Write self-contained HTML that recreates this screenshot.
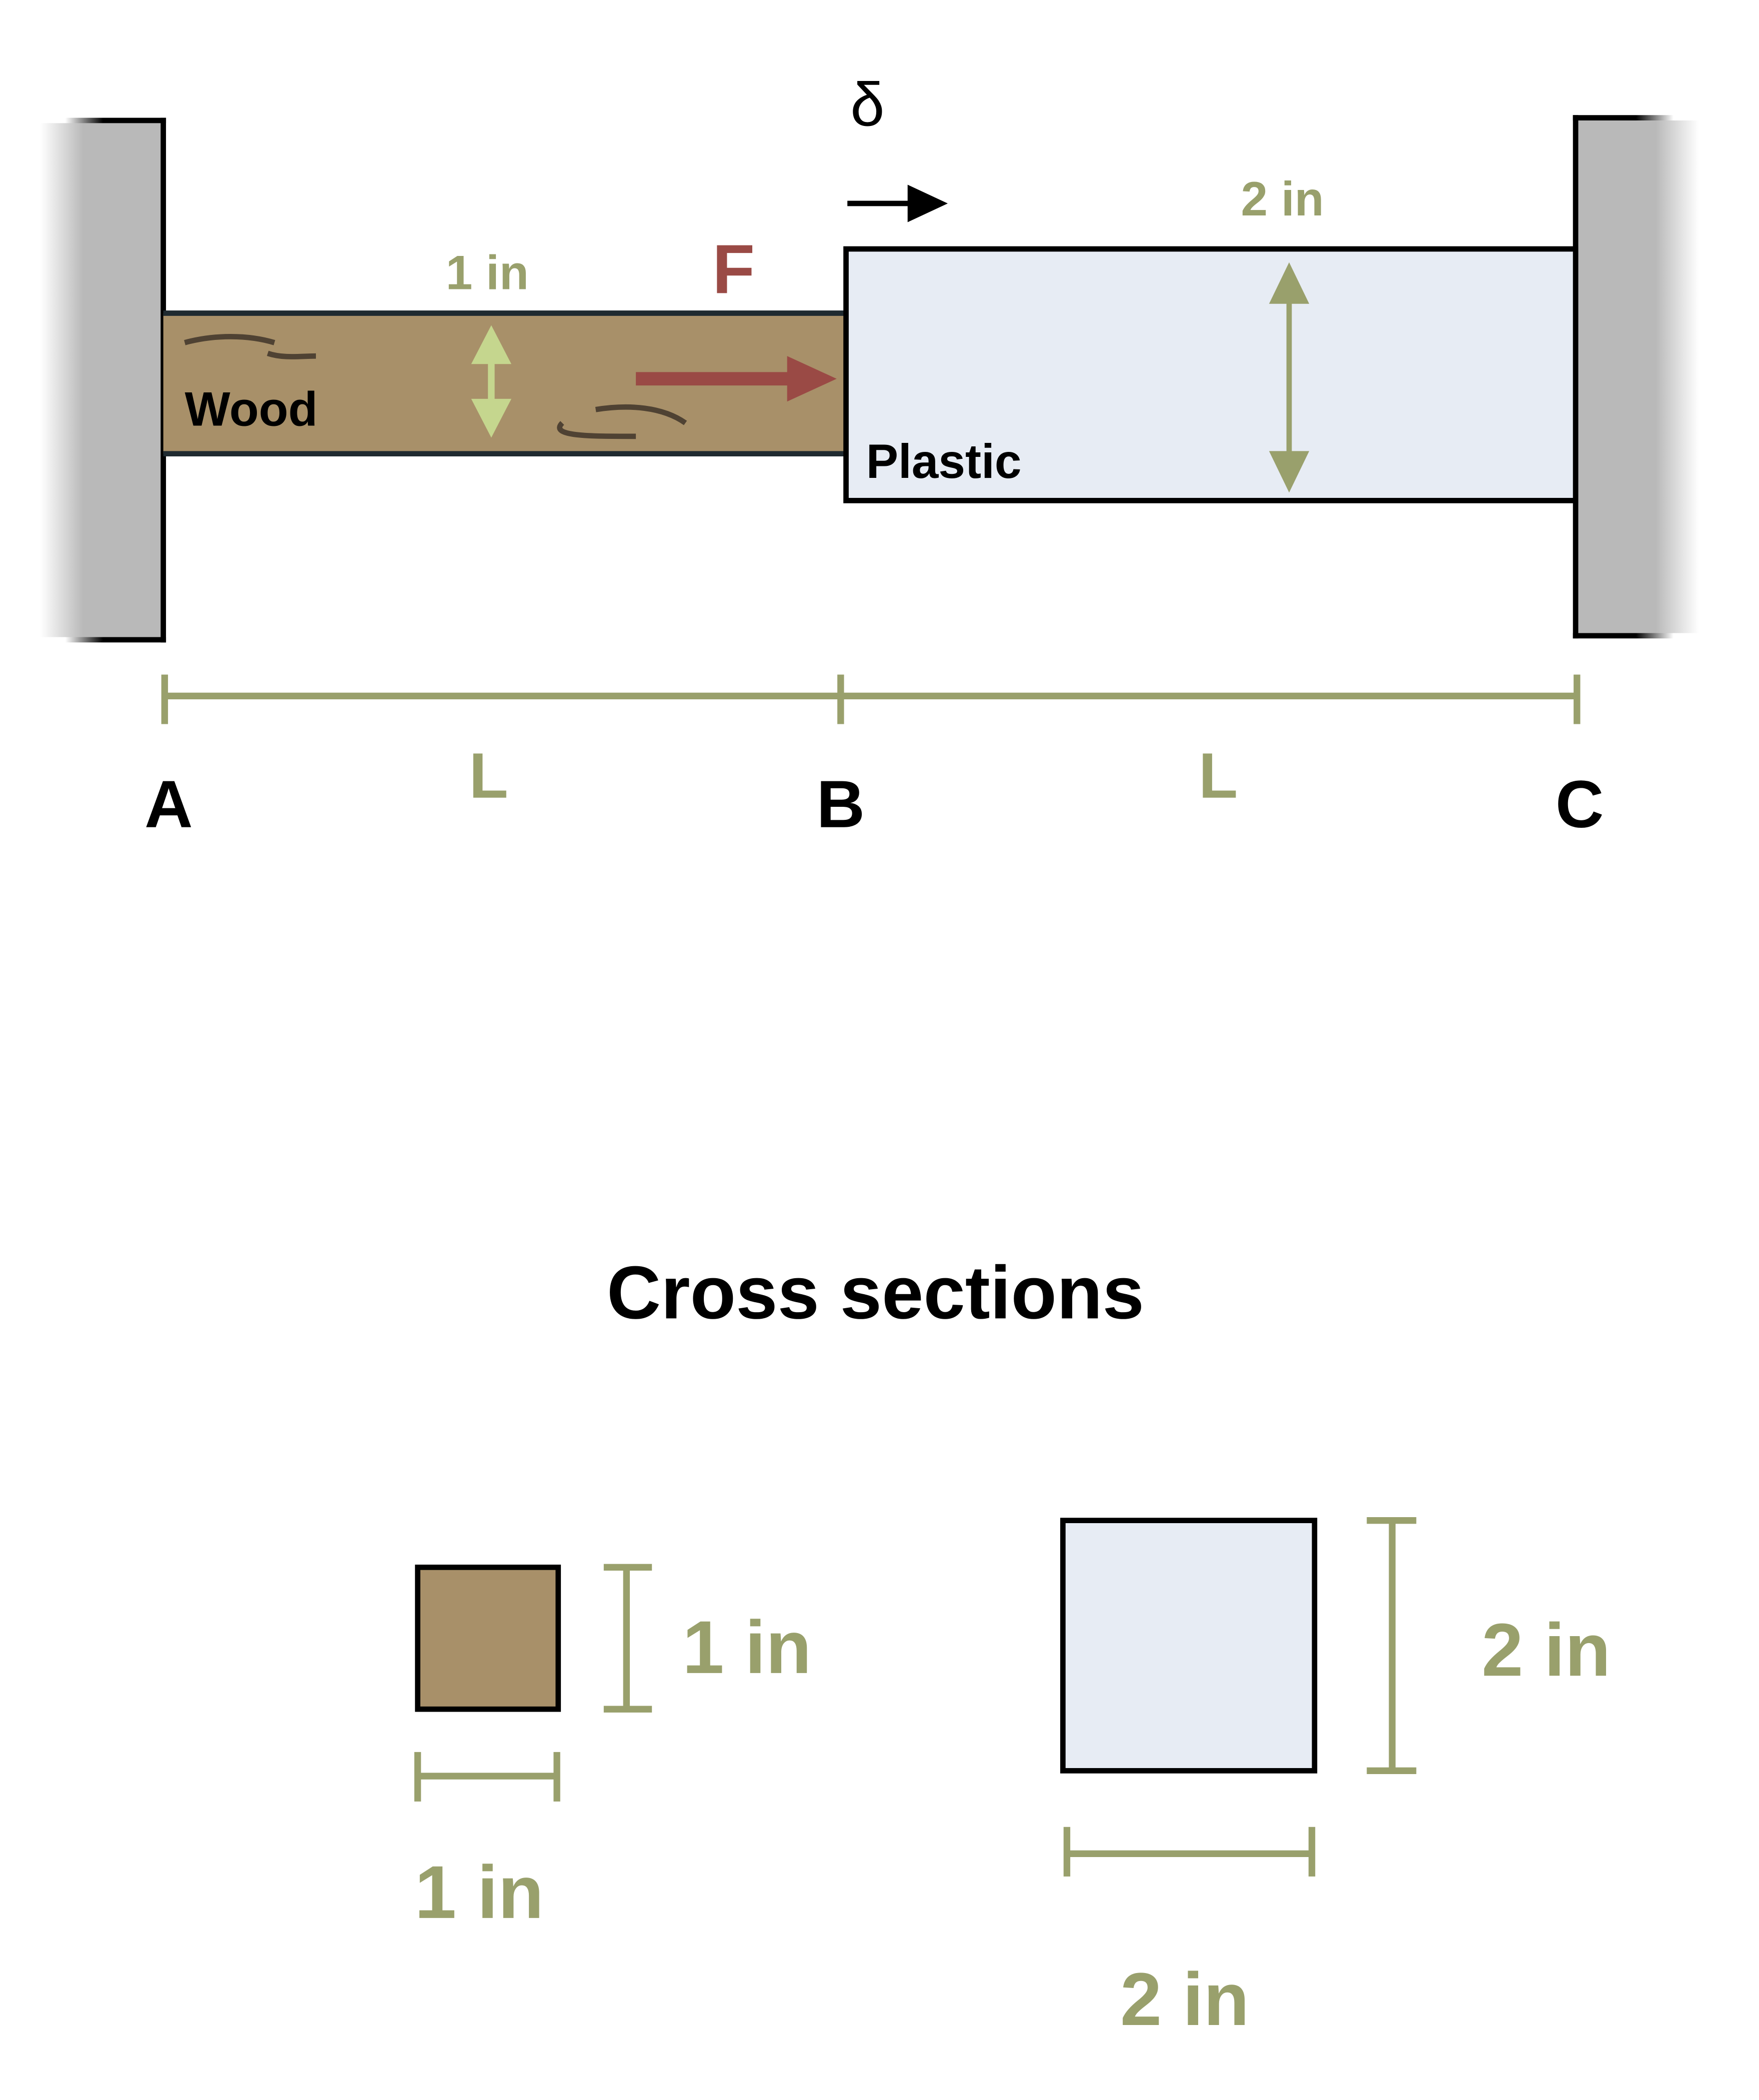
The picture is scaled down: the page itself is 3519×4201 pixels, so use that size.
<!DOCTYPE html>
<html><head><meta charset="utf-8"><style>
html,body{margin:0;padding:0;background:#fff;}
svg{display:block;}
text{font-family:"Liberation Sans",sans-serif;font-weight:bold;}
</style></head><body>
<svg width="3519" height="4201" viewBox="0 0 1314 1569" preserveAspectRatio="none">
<defs>
<linearGradient id="gl" x1="0" x2="1"><stop offset="0" stop-color="#fff"/><stop offset="0.35" stop-color="#b9b9b9"/><stop offset="1" stop-color="#b9b9b9"/></linearGradient>
<linearGradient id="gr" x1="1" x2="0"><stop offset="0" stop-color="#fff"/><stop offset="0.35" stop-color="#b9b9b9"/><stop offset="1" stop-color="#b9b9b9"/></linearGradient>
<linearGradient id="bl" x1="0" x2="1"><stop offset="0" stop-color="#fff"/><stop offset="0.2" stop-color="#fff"/><stop offset="0.5" stop-color="#000"/><stop offset="1" stop-color="#000"/></linearGradient>
<linearGradient id="br" x1="1" x2="0"><stop offset="0" stop-color="#fff"/><stop offset="0.2" stop-color="#fff"/><stop offset="0.5" stop-color="#000"/><stop offset="1" stop-color="#000"/></linearGradient>
</defs>
<g>
<rect x="30" y="90" width="92" height="388" fill="url(#gl)"/>
<rect x="30" y="88" width="94" height="4" fill="url(#bl)"/>
<rect x="30" y="476" width="94" height="4" fill="url(#bl)"/>
<line x1="122" y1="88" x2="122" y2="480" stroke="#000" stroke-width="4"/>
</g>
<g>
<rect x="1177" y="88" width="92" height="387" fill="url(#gr)"/>
<rect x="1175" y="86" width="94" height="4" fill="url(#br)"/>
<rect x="1175" y="473" width="94" height="4" fill="url(#br)"/>
<line x1="1177" y1="86" x2="1177" y2="477" stroke="#000" stroke-width="4"/>
</g>
<g>
<rect x="122" y="234" width="510" height="105" fill="#a89069"/>
<line x1="122" y1="234" x2="632" y2="234" stroke="#1f2a30" stroke-width="4"/>
<line x1="122" y1="339" x2="632" y2="339" stroke="#1f2a30" stroke-width="4"/>
<path d="M138 256 C160 250 185 250 205 256 M200 264 C212 268 225 266 236 266" fill="none" stroke="#4f4233" stroke-width="4"/>
<path d="M420 316 C410 326 440 326 475 326 M445 306 C470 302 495 304 512 316" fill="none" stroke="#4f4233" stroke-width="4"/>
<text x="138" y="318" font-size="36" fill="#000">Wood</text>
</g>
<g>
<rect x="632" y="186" width="545" height="188" fill="#e7ecf4" stroke="#000" stroke-width="4"/>
<text x="647" y="357" font-size="36" fill="#000">Plastic</text>
</g>
<g fill="#c5d68e" stroke="#c5d68e">
<line x1="367" y1="262" x2="367" y2="308" stroke-width="5"/>
<polygon points="367,243 352,272 382,272" stroke="none"/>
<polygon points="367,327 352,298 382,298" stroke="none"/>
</g>
<g fill="#99a06c" stroke="#99a06c">
<line x1="963" y1="215" x2="963" y2="350" stroke-width="4"/>
<polygon points="963,196 948,227 978,227" stroke="none"/>
<polygon points="963,368 948,337 978,337" stroke="none"/>
</g>
<g>
<rect x="475" y="278" width="120" height="10" fill="#9a4a45"/>
<polygon points="588,266 625,283 588,300" fill="#9a4a45"/>
<text x="548" y="219" font-size="52" fill="#9a4a45" text-anchor="middle">F</text>
</g>
<g>
<line x1="633" y1="152" x2="685" y2="152" stroke="#000" stroke-width="4"/>
<polygon points="678,138 708,152 678,166" fill="#000"/>
<text x="648" y="94" font-size="46" fill="#000" text-anchor="middle" style="font-weight:normal">δ</text>
</g>
<text x="364" y="216" font-size="36" fill="#99a06c" text-anchor="middle">1 in</text>
<text x="958" y="161" font-size="36" fill="#99a06c" text-anchor="middle">2 in</text>
<g stroke="#99a06c" stroke-width="5">
<line x1="123" y1="520" x2="1178" y2="520"/>
<line x1="123" y1="504" x2="123" y2="541"/>
<line x1="628" y1="504" x2="628" y2="541"/>
<line x1="1178" y1="504" x2="1178" y2="541"/>
</g>
<text x="365" y="596" font-size="48" fill="#99a06c" text-anchor="middle">L</text>
<text x="910" y="596" font-size="48" fill="#99a06c" text-anchor="middle">L</text>
<text x="126" y="618" font-size="50" fill="#000" text-anchor="middle">A</text>
<text x="628" y="618" font-size="50" fill="#000" text-anchor="middle">B</text>
<text x="1180" y="618" font-size="50" fill="#000" text-anchor="middle">C</text>
<text x="654" y="985" font-size="56" fill="#000" text-anchor="middle">Cross sections</text>
<g>
<rect x="312" y="1171" width="105" height="106" fill="#a89069" stroke="#000" stroke-width="4"/>
<g stroke="#99a06c" stroke-width="5">
<line x1="468" y1="1171" x2="468" y2="1277"/><line x1="451" y1="1171" x2="487" y2="1171"/><line x1="451" y1="1277" x2="487" y2="1277"/>
<line x1="312" y1="1327" x2="416" y2="1327"/><line x1="312" y1="1309" x2="312" y2="1346"/><line x1="416" y1="1309" x2="416" y2="1346"/>
</g>
<text x="558" y="1250" font-size="56" fill="#99a06c" text-anchor="middle">1 in</text>
<text x="358" y="1433" font-size="56" fill="#99a06c" text-anchor="middle">1 in</text>
</g>
<g>
<rect x="794" y="1136" width="188" height="187" fill="#e7ecf4" stroke="#000" stroke-width="4"/>
<g stroke="#99a06c" stroke-width="5">
<line x1="1040" y1="1136" x2="1040" y2="1323"/><line x1="1021" y1="1136" x2="1058" y2="1136"/><line x1="1021" y1="1323" x2="1058" y2="1323"/>
<line x1="797" y1="1385" x2="980" y2="1385"/><line x1="797" y1="1365" x2="797" y2="1402"/><line x1="980" y1="1365" x2="980" y2="1402"/>
</g>
<text x="1155" y="1252" font-size="56" fill="#99a06c" text-anchor="middle">2 in</text>
<text x="885" y="1513" font-size="56" fill="#99a06c" text-anchor="middle">2 in</text>
</g>
</svg>
</body></html>
